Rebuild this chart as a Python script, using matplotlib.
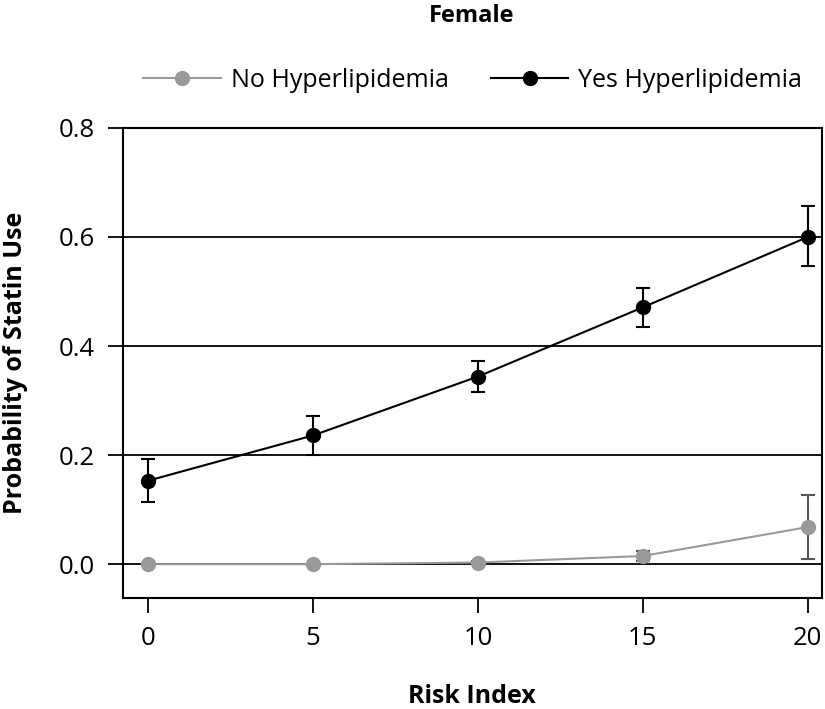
import matplotlib
matplotlib.use("Agg")
import matplotlib.pyplot as plt
from matplotlib.lines import Line2D

plt.rcParams['font.family'] = ['Open Sans', 'DejaVu Sans']

risk = [0, 5, 10, 15, 20]
no_hl = [0.000, 0.000, 0.003, 0.015, 0.068]
no_lo = [0.000, 0.000, 0.001, 0.005, 0.009]
no_hi = [0.001, 0.001, 0.005, 0.024, 0.127]
yes_hl = [0.153, 0.236, 0.344, 0.471, 0.600]
yes_lo = [0.114, 0.200, 0.316, 0.435, 0.546]
yes_hi = [0.193, 0.272, 0.372, 0.506, 0.657]

fig = plt.figure(figsize=(8.25, 7.09), dpi=100)
ax = fig.add_axes([0.149, 0.1566, 0.847, 0.663])

for y in [0.0, 0.2, 0.4, 0.6]:
    ax.axhline(y, color='black', lw=1.3, zorder=1)

grey = '#999999'
ax.errorbar(risk, no_hl,
            yerr=[[a - b for a, b in zip(no_hl, no_lo)], [b - a for a, b in zip(no_hl, no_hi)]],
            color=grey, ecolor='#555555', marker='o', ms=10, lw=1.5, elinewidth=1.5,
            capsize=5, capthick=1.5, zorder=3)
ax.errorbar(risk, yes_hl,
            yerr=[[a - b for a, b in zip(yes_hl, yes_lo)], [b - a for a, b in zip(yes_hl, yes_hi)]],
            color='black', marker='o', ms=10, lw=1.5, elinewidth=1.5,
            capsize=5, capthick=1.5, zorder=3)

ax.set_xlim(-0.76, 20.42)
ax.set_ylim(-0.062, 0.8)
ax.set_xticks(risk)
ax.set_yticks([0.0, 0.2, 0.4, 0.6, 0.8])
ax.set_yticklabels(['0.0', '0.2', '0.4', '0.6', '0.8'])
ax.tick_params(labelsize=18.5, length=11, width=1.3, pad=9)
for s in ax.spines.values():
    s.set_linewidth(1.5)

ax.set_xlabel('Risk Index', fontsize=18, fontweight='bold', labelpad=24)
ax.set_ylabel('Probability of Statin Use', fontsize=18, fontweight='bold', labelpad=22)

fig.text(0.572, 0.978, 'Female', ha='center', va='center', fontsize=17, fontweight='bold')
handles = [Line2D([], [], color=grey, marker='o', ms=10, lw=1.5),
           Line2D([], [], color='black', marker='o', ms=10, lw=1.5)]
fig.legend(handles, ['No Hyperlipidemia', 'Yes Hyperlipidemia'],
           loc='center', bbox_to_anchor=(0.573, 0.887), ncol=2, frameon=False,
           fontsize=18, handlelength=3.1, columnspacing=1.7, handletextpad=0.4)

fig.savefig('out.png', dpi=100)
